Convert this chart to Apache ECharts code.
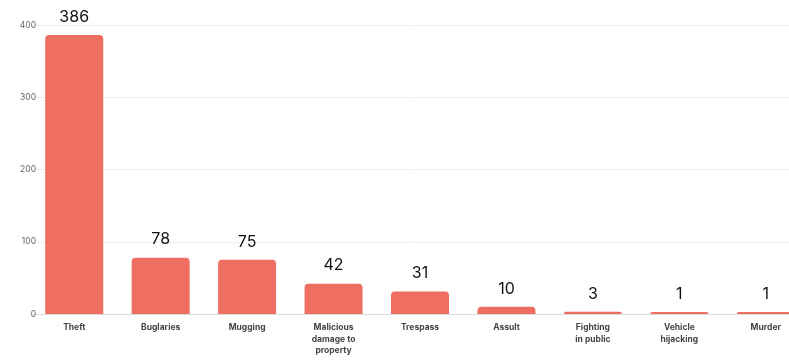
<!DOCTYPE html>
<html>
<head>
<meta charset="utf-8">
<script src="https://cdn.jsdelivr.net/npm/echarts@6/dist/echarts.min.js"></script>
<style>
  html, body { margin: 0; padding: 0; background: #ffffff; }
  #chart { width: 789px; height: 361px; }
</style>
</head>
<body>
<div id="chart"></div>
<script>
// Reported incidents by crime category
const categories = [
  'Theft', 'Buglaries', 'Mugging', 'Malicious\ndamage to\nproperty',
  'Trespass', 'Assult', 'Fighting\nin public', 'Vehicle\nhijacking', 'Murder'
];
const counts = [386, 78, 75, 42, 31, 10, 3, 1, 1];
const yTicks = [0, 100, 200, 300, 400];

const chart = echarts.init(document.getElementById('chart'), null, { renderer: 'canvas' });

chart.setOption({
  animation: false,
  backgroundColor: '#ffffff',
  grid: {
    left: 31, top: 25, width: 778, height: 289,
    containLabel: false,
    outerBoundsMode: 'none'
  },
  xAxis: {
    type: 'category',
    data: categories,
    axisTick: { show: false },
    axisLine: { show: true, lineStyle: { color: '#dcdcdc', width: 1 } },
    axisLabel: {
      interval: 0,
      margin: 8,
      color: '#444',
      fontSize: 8.5,
      fontWeight: 'bold',
      fontFamily: 'Inter, Roboto, sans-serif',
      lineHeight: 11.5
    }
  },
  yAxis: {
    type: 'value',
    min: yTicks[0],
    max: yTicks[yTicks.length - 1],
    interval: 100,
    axisLine: { show: false },
    axisTick: { show: false },
    splitLine: { lineStyle: { color: '#eeeeee', width: 1 } },
    axisLabel: {
      margin: -5,
      color: '#666',
      fontSize: 8.5,
      fontFamily: 'Inter, Roboto, sans-serif'
    }
  },
  series: [{
    type: 'bar',
    data: counts,
    barWidth: 58,
    barMinHeight: 2,
    itemStyle: { color: '#EE6E61', borderRadius: [4, 4, 0, 0] },
    label: {
      show: true,
      position: 'top',
      distance: 10,
      color: '#111',
      fontSize: 16,
      fontFamily: 'Inter, Roboto, sans-serif'
    }
  }]
});
</script>
</body>
</html>
